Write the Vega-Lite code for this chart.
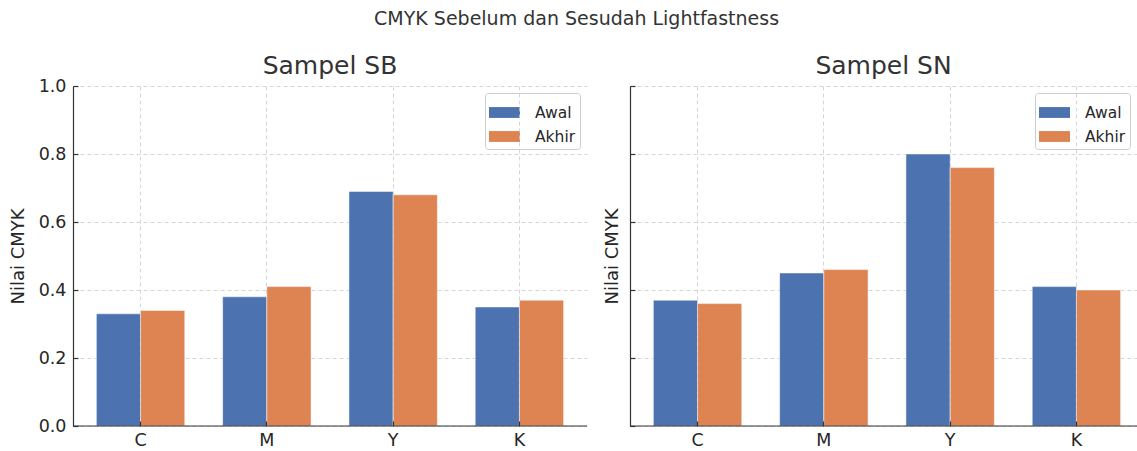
{
  "$schema": "https://vega.github.io/schema/vega-lite/v6.json",
  "datasets": {
    "sb": [
      {"komponen": "C", "tahap": "Awal", "nilai": 0.33},
      {"komponen": "C", "tahap": "Akhir", "nilai": 0.34},
      {"komponen": "M", "tahap": "Awal", "nilai": 0.38},
      {"komponen": "M", "tahap": "Akhir", "nilai": 0.41},
      {"komponen": "Y", "tahap": "Awal", "nilai": 0.69},
      {"komponen": "Y", "tahap": "Akhir", "nilai": 0.68},
      {"komponen": "K", "tahap": "Awal", "nilai": 0.35},
      {"komponen": "K", "tahap": "Akhir", "nilai": 0.37}
    ],
    "sn": [
      {"komponen": "C", "tahap": "Awal", "nilai": 0.37},
      {"komponen": "C", "tahap": "Akhir", "nilai": 0.36},
      {"komponen": "M", "tahap": "Awal", "nilai": 0.45},
      {"komponen": "M", "tahap": "Akhir", "nilai": 0.46},
      {"komponen": "Y", "tahap": "Awal", "nilai": 0.80},
      {"komponen": "Y", "tahap": "Akhir", "nilai": 0.76},
      {"komponen": "K", "tahap": "Awal", "nilai": 0.41},
      {"komponen": "K", "tahap": "Akhir", "nilai": 0.40}
    ]
  },
  "title": {"text": "CMYK Sebelum dan Sesudah Lightfastness", "fontSize": 19, "font": "DejaVu Sans", "fontWeight": "normal", "color": "#333333", "anchor": "middle", "offset": 25},
  "padding": {"left": 9, "top": 10, "right": 0, "bottom": 0},
  "spacing": 15,
  "resolve": {"legend": {"color": "independent"}, "scale": {"color": "independent"}},
  "config": {
    "font": "DejaVu Sans",
    "view": {"stroke": null},
    "title": {"font": "DejaVu Sans", "fontWeight": "normal", "color": "#333333"},
    "axis": {
      "labelFont": "DejaVu Sans", "labelFontSize": 17.5, "labelColor": "#262626",
      "titleFont": "DejaVu Sans", "titleFontSize": 18, "titleFontWeight": "normal", "titleColor": "#262626",
      "domainColor": "#333333", "domainWidth": 1.2, "tickColor": "#333333", "tickWidth": 1.2, "tickSize": -5,
      "gridColor": "#cccccc", "gridDash": [4, 3], "gridWidth": 0.8
    },
    "legend": {
      "orient": "top-right", "offset": 7, "strokeColor": "#cccccc", "fillColor": "white", "cornerRadius": 3,
      "padding": 4, "symbolType": "M-1,-0.35H1V0.35H-1Z", "symbolSize": 961, "symbolStrokeWidth": 0,
      "labelFont": "DejaVu Sans", "labelFontSize": 15.5, "labelColor": "#262626", "labelOffset": 15, "rowPadding": 0
    }
  },
  "hconcat": [
    {
      "width": 514, "height": 340,
      "title": {"text": "Sampel SB", "fontSize": 25, "fontWeight": "normal", "color": "#333333", "offset": -2},
      "layer": [
        {
          "data": {"name": "sb"},
          "mark": {"type": "bar", "stroke": "white", "strokeWidth": 0.5},
          "encoding": {
            "x": {"field": "komponen", "type": "nominal", "sort": ["C", "M", "Y", "K"],
                  "scale": {"paddingInner": 0.3, "paddingOuter": 0.185},
                  "axis": {"title": null, "labelAngle": 0, "bandPosition": 0.5, "grid": true, "domain": false, "labelPadding": 10, "zindex": 1}},
            "xOffset": {"field": "tahap", "type": "nominal", "sort": ["Awal", "Akhir"]},
            "y": {"field": "nilai", "type": "quantitative", "scale": {"domain": [0, 1], "nice": false},
                  "axis": {"title": "Nilai CMYK", "values": [0, 0.2, 0.4, 0.6, 0.8, 1.0], "format": ".1f", "grid": true, "labelPadding": 12, "titlePadding": 11}},
            "color": {"field": "tahap", "type": "nominal", "sort": ["Awal", "Akhir"],
                      "scale": {"domain": ["Awal", "Akhir"], "range": ["#4c72b0", "#dd8452"]},
                      "legend": {"title": null}}
          }
        },
        {
          "data": {"values": [{}]},
          "mark": {"type": "rule", "color": "#333333", "strokeWidth": 1.2},
          "encoding": {"y": {"datum": 0}}
        }
      ]
    },
    {
      "width": 507, "height": 340,
      "title": {"text": "Sampel SN", "fontSize": 25, "fontWeight": "normal", "color": "#333333", "offset": 6},
      "layer": [
        {
          "data": {"name": "sn"},
          "mark": {"type": "bar", "stroke": "white", "strokeWidth": 0.5},
          "encoding": {
            "x": {"field": "komponen", "type": "nominal", "sort": ["C", "M", "Y", "K"],
                  "scale": {"paddingInner": 0.3, "paddingOuter": 0.185, "range": [0, 514]},
                  "axis": {"title": null, "labelAngle": 0, "bandPosition": 0.5, "grid": true, "domain": false, "labelPadding": 10, "zindex": 1}},
            "xOffset": {"field": "tahap", "type": "nominal", "sort": ["Awal", "Akhir"]},
            "y": {"field": "nilai", "type": "quantitative", "scale": {"domain": [0, 1], "nice": false},
                  "axis": {"title": "Nilai CMYK", "values": [0, 0.2, 0.4, 0.6, 0.8, 1.0], "labels": false, "grid": true, "titlePadding": 8}},
            "color": {"field": "tahap", "type": "nominal", "sort": ["Awal", "Akhir"],
                      "scale": {"domain": ["Awal", "Akhir"], "range": ["#4c72b0", "#dd8452"]},
                      "legend": {"title": null}}
          }
        },
        {
          "data": {"values": [{}]},
          "mark": {"type": "rule", "color": "#333333", "strokeWidth": 1.2},
          "encoding": {"y": {"datum": 0}}
        }
      ]
    }
  ]
}
